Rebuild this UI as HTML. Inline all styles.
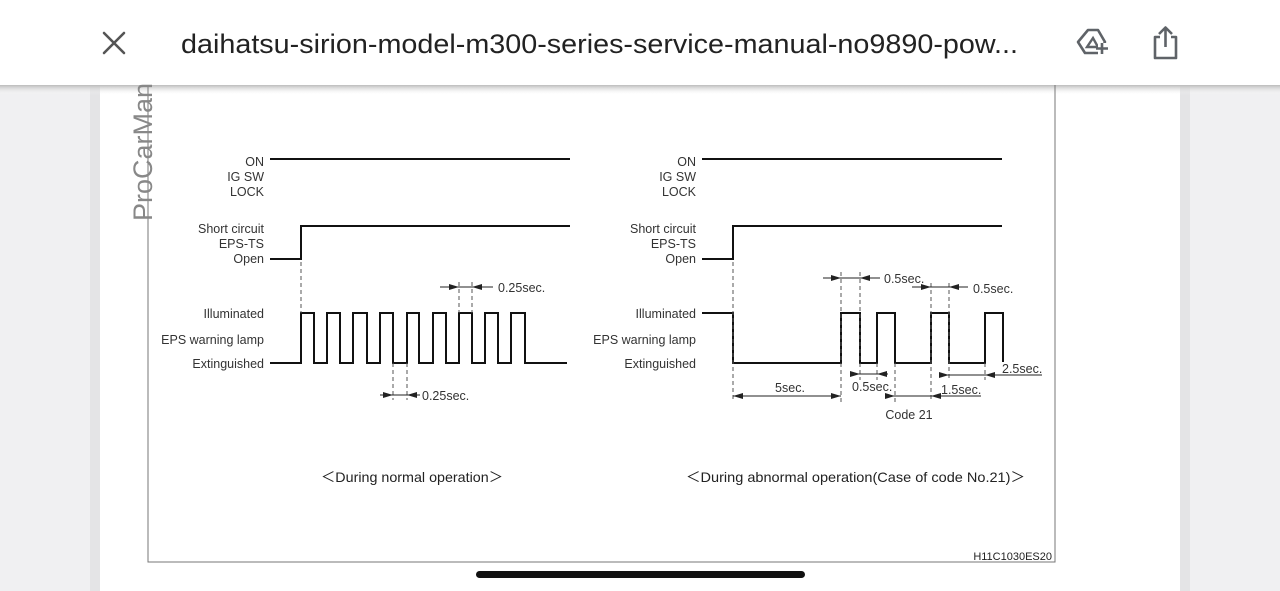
<!DOCTYPE html>
<html><head><style>
html,body{margin:0;padding:0;width:1280px;height:591px;overflow:hidden;background:#f0f0f2;font-family:"Liberation Sans",sans-serif;}
</style></head><body>
<svg width="1280" height="591" viewBox="0 0 1280 591" xmlns="http://www.w3.org/2000/svg" style="position:absolute;left:0;top:0">
<defs>
<linearGradient id="sh" x1="0" y1="0" x2="0" y2="1"><stop offset="0" stop-color="#bbb"/><stop offset="1" stop-color="#fff" stop-opacity="0"/></linearGradient>
<marker id="ar" markerWidth="10" markerHeight="6" refX="10" refY="3" orient="auto" markerUnits="userSpaceOnUse"><path d="M0,0 L10,3 L0,6 Z" fill="#222"/></marker>
</defs>
<rect x="100" y="85" width="1080" height="506" fill="#fff"/>
<rect x="90" y="85" width="10" height="506" fill="#e4e4e6"/>
<rect x="1180" y="85" width="10" height="506" fill="#e4e4e6"/>
<rect x="0" y="85" width="1280" height="10" fill="url(#sh)"/>
<rect x="0" y="0" width="1280" height="85" fill="#fff"/>
<!-- header -->
<path d="M104,33 L124,53 M124,33 L104,53" stroke="#555" stroke-width="2.6" stroke-linecap="round"/>
<text x="181" y="53" font-size="27" fill="#222" textLength="837" lengthAdjust="spacingAndGlyphs">daihatsu-sirion-model-m300-series-service-manual-no9890-pow...</text>
<path d="M1088,30 L1098,30 L1105,42 L1099,53 L1085,53 L1078,42 Z" fill="none" stroke="#5f6368" stroke-width="2.6" stroke-linejoin="round"/>
<path d="M1087,47 L1093,38 L1098,47 Z" fill="none" stroke="#5f6368" stroke-width="2.4"/>
<rect x="1098" y="43" width="12" height="13" fill="#fff"/>
<path d="M1102,43 V54 M1096,48.5 H1108" stroke="#5f6368" stroke-width="2.6"/>
<path d="M1160,37 H1155 V58 H1176 V37 H1171" fill="none" stroke="#5f6368" stroke-width="2.6" stroke-linejoin="round"/>
<path d="M1165.5,28 V47 M1159,34 L1165.5,27.5 L1172,34" fill="none" stroke="#5f6368" stroke-width="2.6" stroke-linejoin="round"/>
<!-- frame -->
<path d="M148,85 V562 H1055 V85" fill="none" stroke="#777" stroke-width="1"/>
<text transform="translate(152,221) rotate(-90)" font-size="27" fill="#888">ProCarMan</text>
<text x="1052" y="560" font-size="11" fill="#222" text-anchor="end">H11C1030ES20</text>
<g font-size="12.5" fill="#333" text-anchor="end">
<text x="264" y="166">ON</text><text x="264" y="181">IG SW</text><text x="264" y="196">LOCK</text>
<text x="264" y="233">Short circuit</text><text x="264" y="248">EPS-TS</text><text x="264" y="263">Open</text>
<text x="264" y="318">Illuminated</text><text x="264" y="344">EPS warning lamp</text><text x="264" y="368">Extinguished</text>
<text x="696" y="166">ON</text><text x="696" y="181">IG SW</text><text x="696" y="196">LOCK</text>
<text x="696" y="233">Short circuit</text><text x="696" y="248">EPS-TS</text><text x="696" y="263">Open</text>
<text x="696" y="318">Illuminated</text><text x="696" y="344">EPS warning lamp</text><text x="696" y="368">Extinguished</text>
</g>
<g fill="none" stroke="#111" stroke-width="2">
<path d="M270,159 H570"/>
<path d="M270,259 H301 V226 H570"/>
<path d="M270,363 H301 V313 H314 V363 H327 V313 H340 V363 H353 V313 H367 V363 H380 V313 H393 V363 H407 V313 H419 V363 H433 V313 H446 V363 H459 V313 H472 V363 H485 V313 H498 V363 H511 V313 H525 V363 H567"/>
<path d="M702,159 H1002"/>
<path d="M702,259 H733 V226 H1002"/>
<path d="M702,313 H733 V363 H841 V313 H860 V363 H877 V313 H895 V363 H931 V313 H949 V363 H985 V313 H1003 V362"/>
</g>
<g stroke="#555" stroke-width="1" stroke-dasharray="4,3" fill="none">
<path d="M301,262 V313"/>
<path d="M459,282 V313 M472,282 V313"/>
<path d="M393,363 V400 M407,363 V400"/>
<path d="M733,262 V402 M841,272 V402 M860,272 V380 M877,363 V380 M895,363 V402 M931,283 V402 M949,283 V380 M985,363 V380"/>
</g>
<g stroke="#222" stroke-width="1" fill="none">
<path d="M440,287 H459" marker-end="url(#ar)"/><path d="M493,287 H472" marker-end="url(#ar)"/><path d="M459,287 H472"/>
<path d="M380,395 H393" marker-end="url(#ar)"/><path d="M420,395 H407" marker-end="url(#ar)"/><path d="M393,395 H407"/>
<path d="M823,278 H841" marker-end="url(#ar)"/><path d="M880,278 H860" marker-end="url(#ar)"/><path d="M841,278 H860"/>
<path d="M912,287 H931" marker-end="url(#ar)"/><path d="M968,287 H949" marker-end="url(#ar)"/><path d="M931,287 H949"/>
<path d="M852,374 H860" marker-end="url(#ar)"/><path d="M888,374 H877" marker-end="url(#ar)"/><path d="M860,374 H877"/>
<path d="M940,375 H949" marker-end="url(#ar)"/><path d="M1000,375 H985" marker-end="url(#ar)"/><path d="M949,375 H985"/>
<path d="M885,396 H895" marker-end="url(#ar)"/><path d="M946,396 H931" marker-end="url(#ar)"/><path d="M895,396 H931 M946,396 H981"/>
<path d="M787,396 H733" marker-end="url(#ar)"/><path d="M787,396 H841" marker-end="url(#ar)"/>
<path d="M1000,375 H1042"/>
</g>
<g font-size="12.5" fill="#333">
<text x="498" y="292">0.25sec.</text>
<text x="422" y="400">0.25sec.</text>
<text x="884" y="283">0.5sec.</text>
<text x="973" y="293">0.5sec.</text>
<text x="852" y="391">0.5sec.</text>
<text x="1002" y="373">2.5sec.</text>
<text x="941" y="394">1.5sec.</text>
<text x="790" y="392" text-anchor="middle">5sec.</text>
<text x="909" y="419" text-anchor="middle">Code 21</text>
</g>
<g font-size="14" fill="#222">
<text x="321" y="482" textLength="182" lengthAdjust="spacingAndGlyphs">＜During normal operation＞</text>
<text x="686" y="482" textLength="339" lengthAdjust="spacingAndGlyphs">＜During abnormal operation(Case of code No.21)＞</text>
</g>
<rect x="476" y="571" width="329" height="7" rx="3.5" fill="#111"/>
</svg>
</body></html>
